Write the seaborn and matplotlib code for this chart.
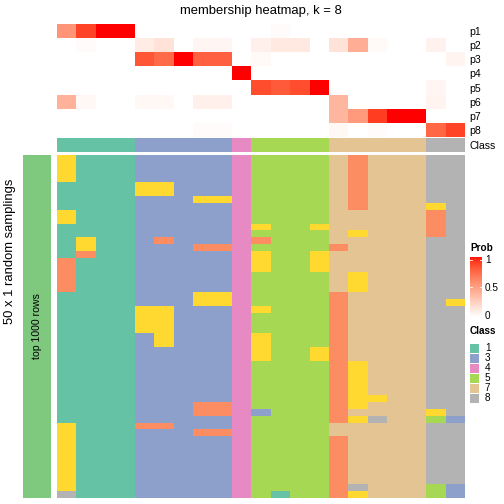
import numpy as np
import pandas as pd
import matplotlib
matplotlib.use("Agg")
import matplotlib.pyplot as plt
from matplotlib.colors import ListedColormap
from matplotlib.patches import Rectangle
import seaborn as sns

# membership probabilities, one list per class row (21 samples)
prob_labels = ["p1", "p2", "p3", "p4", "p5", "p6", "p7", "p8"]
p1 = [0.55, 0.88, 1, 1, 0, 0, 0, 0, 0, 0, 0, 0.02, 0, 0, 0, 0, 0, 0, 0, 0, 0]
p2 = [0, 0.02, 0, 0, 0.1, 0.15, 0, 0.05, 0.05, 0, 0.08, 0.12, 0.12, 0, 0.15, 0.42, 0.03, 0, 0, 0.07, 0]
p3 = [0, 0, 0, 0, 0.82, 0.74, 1, 0.78, 0.78, 0, 0.03, 0, 0, 0, 0, 0, 0, 0, 0, 0, 0.06]
p4 = [0, 0, 0, 0, 0, 0, 0, 0, 0, 1, 0, 0, 0, 0, 0, 0, 0, 0, 0, 0, 0]
p5 = [0, 0, 0, 0, 0, 0, 0, 0, 0, 0, 0.85, 0.8, 0.85, 1, 0, 0, 0, 0, 0, 0.05, 0]
p6 = [0.4, 0.04, 0, 0, 0.04, 0.04, 0, 0.08, 0.08, 0, 0, 0, 0, 0, 0.38, 0, 0, 0, 0, 0.06, 0]
p7 = [0, 0, 0, 0, 0, 0, 0, 0, 0, 0, 0, 0, 0, 0, 0.38, 0.52, 0.9, 1, 1, 0, 0]
p8 = [0, 0, 0, 0, 0, 0, 0, 0.02, 0.02, 0, 0, 0, 0, 0, 0.04, 0, 0.02, 0, 0, 0.75, 0.88]

# consensus class of each sample
sample_class = [1, 1, 1, 1, 3, 3, 3, 3, 3, 4, 5, 5, 5, 5, 7, 7, 7, 7, 7, 8, 8]
legend_classes = [1, 3, 4, 5, 7, 8]
prob_ticks = [0, 0.5, 1]

# class assigned in each of the 50 random samplings (one string per sampling)
samplings = [
    "611133333455557277788", "611133333455557277788", "611133333455557277788",
    "611133333455557277788", "111166333455557277788", "111166333455557277788",
    "111133366455557277788", "111133333455557277768", "611133333455557777728",
    "611133333455557777728", "111133333465567777728", "111133333455557677728",
    "161132333425557777788", "161133322455552777788", "121133333465567777788",
    "211133333465567777788", "211133333465567777788", "211133333455557677788",
    "211133333455557677788", "211133333455557677788", "111133366455552777788",
    "111133366455552777786", "111166333465552777788", "111166333455552777788",
    "111166333455552777788", "111166333455552777788", "111136333465552777788",
    "111136333465552777788", "111133333465562777788", "111133333465562777788",
    "111133333455552677788", "111133333455552677788", "111133333455552677788",
    "111133333455552677788", "111133333455552677788", "111133333455552667788",
    "111133322455552677788", "111133322435552777768", "111133333455552687753",
    "611122333455557777788", "611133322455557777788", "611133333455552777788",
    "611133333455552777788", "611133333455552777788", "611133333455552777788",
    "611133333455552777788", "611133333455552777788", "611133333455552777788",
    "611133333455552877753", "811133333451552677753",
]


def lab_ramp(c1, c2, n=256):
    """white -> red ramp interpolated in CIE LAB, like colorRamp2"""
    white = np.array([0.95047, 1.0, 1.08883])
    m = np.array([[0.4124, 0.3576, 0.1805], [0.2126, 0.7152, 0.0722], [0.0193, 0.1192, 0.9505]])

    def to_lab(c):
        c = np.array(c, dtype=float)
        lin = np.where(c <= 0.04045, c / 12.92, ((c + 0.055) / 1.055) ** 2.4)
        xyz = m @ lin / white
        f = np.where(xyz > 0.008856, np.cbrt(xyz), 7.787 * xyz + 16 / 116)
        return np.array([116 * f[1] - 16, 500 * (f[0] - f[1]), 200 * (f[1] - f[2])])

    l1, l2 = to_lab(c1), to_lab(c2)
    out = []
    for t in np.linspace(0, 1, n):
        L, a, b = l1 + (l2 - l1) * t
        fy = (L + 16) / 116
        f = np.array([fy + a / 500, fy, fy - b / 200])
        xyz = np.where(f ** 3 > 0.008856, f ** 3, (f - 16 / 116) / 7.787) * white
        lin = np.linalg.inv(m) @ xyz
        lin = np.clip(lin, 0, 1)
        rgb = np.where(lin <= 0.0031308, 12.92 * lin, 1.055 * lin ** (1 / 2.4) - 0.055)
        out.append(np.clip(rgb, 0, 1))
    return ListedColormap(out)


prob_cmap = lab_ramp((1, 1, 1), (1, 0, 0))
class_colors = sns.color_palette("Set2", 8)
class_cmap = ListedColormap(class_colors)

prob_df = pd.DataFrame([p1, p2, p3, p4, p5, p6, p7, p8], index=prob_labels)
class_df = pd.DataFrame([sample_class], index=["Class"])
samp_df = pd.DataFrame([[int(ch) for ch in row] for row in samplings])

plt.rcParams["font.family"] = ["Liberation Sans", "DejaVu Sans"]
W = 504.0
fig = plt.figure(figsize=(7, 7), dpi=72)


def px_axes(x0, y0, x1, y1):
    return fig.add_axes([x0 / W, 1 - y1 / W, (x1 - x0) / W, (y1 - y0) / W])


# membership heatmap
ax_p = px_axes(57, 24, 465, 137)
sns.heatmap(prob_df, ax=ax_p, cmap=prob_cmap, vmin=0, vmax=1, cbar=False,
            xticklabels=False, yticklabels=True)
ax_p.yaxis.tick_right()
ax_p.tick_params(axis="y", length=0, pad=4, labelsize=10.5, labelrotation=0)
ax_p.set_xlabel("")
ax_p.set_ylabel("")

# class annotation row
ax_c = px_axes(57, 138, 465, 152)
sns.heatmap(class_df, ax=ax_c, cmap=class_cmap, vmin=0.5, vmax=8.5, cbar=False,
            xticklabels=False, yticklabels=True)
ax_c.yaxis.tick_right()
ax_c.tick_params(axis="y", length=0, pad=4, labelsize=10.5, labelrotation=0)

# samplings heatmap
ax_s = px_axes(57, 155, 465, 498)
sns.heatmap(samp_df, ax=ax_s, cmap=class_cmap, vmin=0.5, vmax=8.5, cbar=False,
            xticklabels=False, yticklabels=False)
ax_s.set_xlabel("")
ax_s.set_ylabel("")

# overlay in pixel coordinates for annotations and legends
ov = fig.add_axes([0, 0, 1, 1], zorder=-1)
ov.set_xlim(0, W)
ov.set_ylim(W, 0)
ov.axis("off")

ov.text(261, 11, "membership heatmap, k = 8", ha="center", va="center", fontsize=13)
ov.text(10, 251, "50 x 1 random samplings", ha="center", va="center",
        rotation=90, fontsize=13)
ov.add_patch(Rectangle((23, 155), 28, 343, color="#7FC97F", lw=0))
ov.text(37, 326, "top 1000 rows", ha="center", va="center", rotation=90, fontsize=10.5)

# Prob legend
ov.text(470, 248, "Prob", ha="left", va="center", fontsize=10, fontweight="bold")
ax_cb = px_axes(470, 257, 482, 317)
ax_cb.imshow(np.linspace(1, 0, 100).reshape(-1, 1), cmap=prob_cmap, aspect="auto",
             extent=[0, 1, 0, 1])
ax_cb.set_xlim(0, 1)
ax_cb.set_ylim(0, 1)
ax_cb.set_axis_off()
for v in prob_ticks:
    yy = 0.05 + v * 0.9
    if v > 0:
        ax_cb.plot([0, 0.2], [yy, yy], color="white", lw=0.8)
        ax_cb.plot([0.8, 1], [yy, yy], color="white", lw=0.8)
    ov.text(485, 316 - v * 56, f"{v:g}", ha="left", va="center", fontsize=10)

# Class legend
ov.text(470, 331, "Class", ha="left", va="center", fontsize=10, fontweight="bold")
for i, cl in enumerate(legend_classes):
    y = 348 + i * 10
    ov.add_patch(Rectangle((470, y - 4.5), 9, 9, color=class_colors[cl - 1], lw=0))
    ov.text(485, y, str(cl), ha="left", va="center", fontsize=10)

fig.savefig("out.png", dpi=72)
